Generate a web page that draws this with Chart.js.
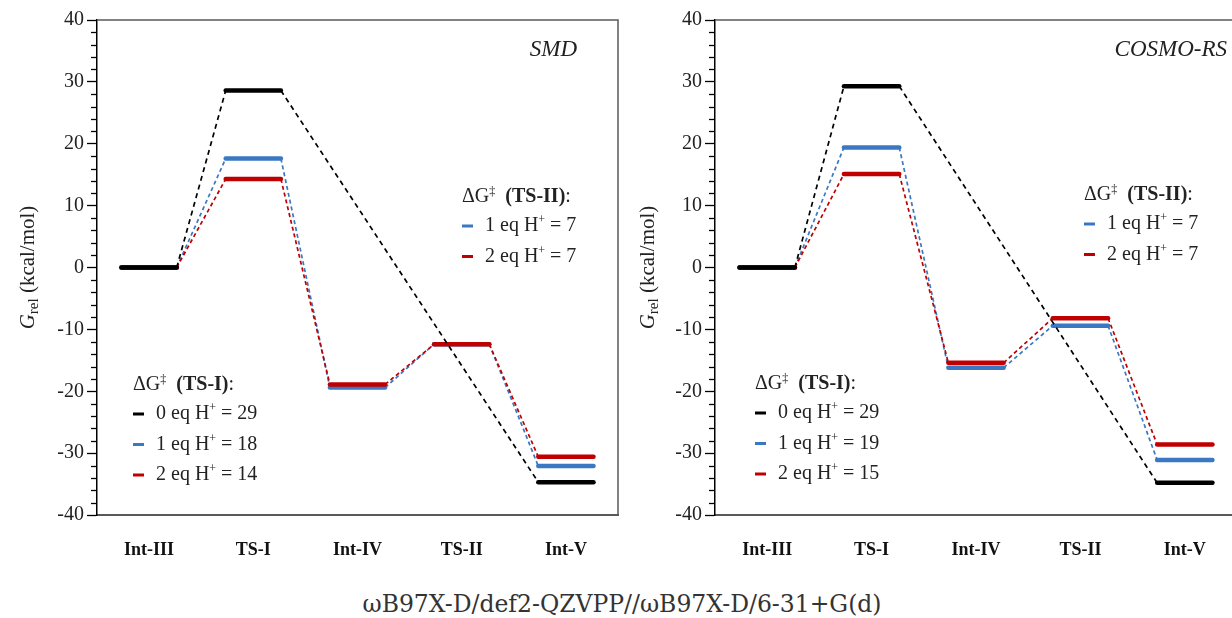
<!DOCTYPE html>
<html>
<head>
<meta charset="utf-8">
<script src="https://cdn.jsdelivr.net/npm/chart.js@4/dist/chart.umd.min.js"></script>
<style>
    html, body { margin: 0; padding: 0; background: #fff; }
    #wrap { position: relative; width: 1232px; height: 618px; overflow: hidden; }
    #smd-chart { position: absolute; left: 0; top: 0; }
    #cosmo-chart { position: absolute; left: 620px; top: 0; }
    #caption {
        position: absolute; left: 0; width: 1244px; top: 590px;
        text-align: center; font-family: "DejaVu Serif", serif; font-size: 23.5px; color: #333;
    }
</style>
</head>
<body>
<div id="wrap">
    <canvas id="smd-chart" width="620" height="570"></canvas>
    <canvas id="cosmo-chart" width="625" height="570"></canvas>
    <div id="caption">ωB97X-D/def2-QZVPP//ωB97X-D/6-31+G(d)</div>
</div>
<script>
// reaction stages
const stages = ['Int-III', 'TS-I', 'Int-IV', 'TS-II', 'Int-V'];

// SMD free energies (kcal/mol), null = stage not on that path
const smdEq0 = [0, 28.6, null, null, -34.7];
const smdEq1 = [0, 17.6, -19.4, -12.4, -32.1];
const smdEq2 = [0, 14.3, -18.9, -12.4, -30.6];

// COSMO-RS free energies
const cosmoEq0 = [0, 29.3, null, null, -34.8];
const cosmoEq1 = [0, 19.4, -16.2, -9.4, -31.1];
const cosmoEq2 = [0, 15.1, -15.4, -8.2, -28.6];

// barriers quoted in the legends
const eqCounts = [0, 1, 2];
const smdBarrierTS1 = [29, 18, 14];
const smdBarrierTS2 = [7, 7];
const cosmoBarrierTS1 = [29, 19, 15];
const cosmoBarrierTS2 = [7, 7];

const yMin = -40, yMax = 40, yStep = 10, yMinorStep = 2;

const colors = ['#000000', '#3b78c3', '#c00000'];
const serif = 'Liberation Serif';
const halfLevel = 0.265; // half width of an energy level, in category units

// turn the per-stage values into level + connector points
function levelPoints(values) {
    const pts = [];
    values.forEach((v, i) => {
        if (v === null) return;
        pts.push({x: i - halfLevel, y: v});
        pts.push({x: i + halfLevel, y: v});
    });
    return pts;
}

function makeDataset(values, color, dash) {
    return {
        data: levelPoints(values),
        borderColor: color,
        pointRadius: 0,
        tension: 0,
        segment: {
            borderWidth: ctx => ctx.p0DataIndex % 2 === 0 ? 4.5 : 1.7,
            borderDash: ctx => ctx.p0DataIndex % 2 === 0 ? [] : dash,
            borderCapStyle: ctx => ctx.p0DataIndex % 2 === 0 ? 'round' : 'butt'
        }
    };
}

// draw a run of text pieces one after the other
function drawRuns(ctx, x, y, runs) {
    runs.forEach(r => {
        ctx.font = r.font;
        ctx.fillText(r.t, x, y + (r.dy || 0));
        x += ctx.measureText(r.t).width;
    });
    return x;
}

function runsWidth(ctx, runs) {
    let w = 0;
    runs.forEach(r => { ctx.font = r.font; w += ctx.measureText(r.t).width; });
    return w;
}

function drawLegend(ctx, lg) {
    ctx.fillStyle = '#222';
    ctx.textBaseline = 'middle';
    drawRuns(ctx, lg.x, lg.y, [
        {t: 'ΔG', font: `20px "${serif}"`},
        {t: '‡', font: `12px "${serif}"`, dy: -5},
        {t: '  (' + lg.title + ')', font: `bold 20px "${serif}"`},
        {t: ':', font: `20px "${serif}"`}
    ]);
    lg.rows.forEach((row, k) => {
        const ry = lg.y + 29 + k * 30.5;
        ctx.strokeStyle = row.color;
        ctx.lineWidth = 3;
        ctx.beginPath();
        ctx.moveTo(lg.x, ry);
        ctx.lineTo(lg.x + 11, ry);
        ctx.stroke();
        ctx.fillStyle = '#222';
        drawRuns(ctx, lg.x + 23, ry, [
            {t: row.eq + ' eq H', font: `20px "${serif}"`},
            {t: '+', font: `12px "${serif}"`, dy: -6},
            {t: ' = ' + row.value, font: `20px "${serif}"`}
        ]);
    });
}

const decor = {
    id: 'decor',
    afterDraw(chart, args, opts) {
        const ctx = chart.ctx;
        const a = chart.chartArea;
        const y = chart.scales.y;
        ctx.save();

        // frame on top and right
        ctx.strokeStyle = '#595959';
        ctx.lineWidth = 1.5;
        ctx.beginPath();
        ctx.moveTo(a.left, a.top);
        ctx.lineTo(a.right, a.top);
        ctx.lineTo(a.right, a.bottom);
        ctx.stroke();

        // minor ticks on the y axis
        ctx.strokeStyle = '#000';
        ctx.lineWidth = 1.3;
        for (let v = yMin; v <= yMax; v += yMinorStep) {
            if (v % yStep === 0) continue;
            const py = Math.round(y.getPixelForValue(v)) + 0.5;
            ctx.beginPath();
            ctx.moveTo(a.left - 6, py);
            ctx.lineTo(a.left, py);
            ctx.stroke();
        }

        // y axis title
        const titleRuns = [
            {t: 'G', font: `italic 21px "${serif}"`},
            {t: 'rel', font: `15px "${serif}"`, dy: 6},
            {t: ' (kcal/mol)', font: `21px "${serif}"`}
        ];
        ctx.save();
        ctx.translate(28, y.getPixelForValue(0));
        ctx.rotate(-Math.PI / 2);
        ctx.fillStyle = '#222';
        ctx.textBaseline = 'middle';
        drawRuns(ctx, -runsWidth(ctx, titleRuns) / 2, 0, titleRuns);
        ctx.restore();

        // panel title
        ctx.fillStyle = '#222';
        ctx.font = `italic 23px "${serif}"`;
        ctx.textAlign = 'right';
        ctx.textBaseline = 'middle';
        ctx.fillText(opts.title, a.left + opts.titleX, a.top + 30);
        ctx.textAlign = 'left';

        opts.legends.forEach(lg => drawLegend(ctx, {
            x: a.left + lg.dx, y: a.top + lg.dy, title: lg.title, rows: lg.rows
        }));
        ctx.restore();
    }
};

function legendRows(barriers, firstEq) {
    return barriers.map((b, k) => ({
        color: colors[firstEq + k], eq: eqCounts[firstEq + k], value: b
    }));
}

function buildChart(canvasId, series, cfg) {
    const ctx = document.getElementById(canvasId).getContext('2d');
    return new Chart(ctx, {
        type: 'line',
        data: {
            datasets: [
                makeDataset(series[0], colors[0], [5, 4]),
                makeDataset(series[2], colors[2], [4, 3]),
                makeDataset(series[1], colors[1], [4, 3])
            ]
        },
        plugins: [decor],
        options: {
            responsive: false,
            animation: false,
            layout: {padding: {top: 20, right: cfg.padRight, left: 0, bottom: 0}},
            plugins: {
                legend: {display: false},
                tooltip: {enabled: false},
                decor: {
                    title: cfg.title,
                    titleX: cfg.titleX,
                    legends: cfg.legends
                }
            },
            scales: {
                x: {
                    type: 'linear',
                    min: -0.5,
                    max: stages.length - 0.5,
                    afterBuildTicks: s => { s.ticks = stages.map((_, i) => ({value: i})); },
                    afterFit: s => { s.height = 55; },
                    grid: {display: true, drawOnChartArea: false, drawTicks: false},
                    border: {color: '#595959', width: 2},
                    ticks: {
                        padding: 25,
                        color: '#111',
                        autoSkip: false,
                        maxRotation: 0,
                        font: {family: serif, size: 18, weight: 'bold'},
                        callback: v => stages[v] ?? ''
                    }
                },
                y: {
                    min: yMin,
                    max: yMax,
                    afterFit: s => { s.width = cfg.yWidth; },
                    grid: {drawOnChartArea: false, tickLength: 10, tickColor: '#000', tickWidth: 1.3},
                    border: {color: '#000', width: 1.5},
                    ticks: {
                        stepSize: yStep,
                        padding: 3,
                        color: '#222',
                        font: {family: serif, size: 20}
                    }
                }
            }
        }
    });
}

buildChart('smd-chart', [smdEq0, smdEq1, smdEq2], {
    title: 'SMD',
    titleX: 480,
    padRight: 2,
    yWidth: 97,
    legends: [
        {dx: 36, dy: 365, title: 'TS-I', rows: legendRows(smdBarrierTS1, 0)},
        {dx: 365, dy: 177, title: 'TS-II', rows: legendRows(smdBarrierTS2, 1)}
    ]
});

buildChart('cosmo-chart', [cosmoEq0, cosmoEq1, cosmoEq2], {
    title: 'COSMO-RS',
    titleX: 512,
    padRight: 8,
    yWidth: 95,
    legends: [
        {dx: 40, dy: 364, title: 'TS-I', rows: legendRows(cosmoBarrierTS1, 0)},
        {dx: 369, dy: 175, title: 'TS-II', rows: legendRows(cosmoBarrierTS2, 1)}
    ]
});
</script>
</body>
</html>
